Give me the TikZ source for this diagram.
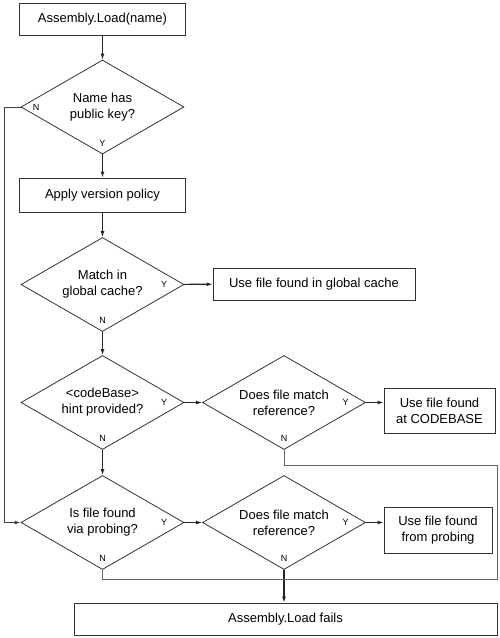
\documentclass[tikz,border=0pt]{standalone}
\usepackage{fontspec}
\setmainfont{Liberation Sans}
\usetikzlibrary{shapes.geometric,positioning,arrows.meta,calc}

\tikzset{
    box/.style={draw=black!80, line width=0.8pt, rectangle, align=center, inner sep=2pt, font=\fontsize{13}{16}\selectfont},
    decision/.style={draw=black!80, line width=0.8pt, diamond, aspect=1.73, inner sep=0pt, minimum width=163pt, minimum height=94pt, align=center, font=\fontsize{13}{16}\selectfont},
    flow/.style={line width=1.1pt, black!85, -{Latex[length=6pt,width=4pt]}},
    back/.style={line width=0.7pt, black!60},
    yn/.style={font=\fontsize{9}{10}\selectfont, inner sep=1pt},
}

\begin{document}
\begin{tikzpicture}[x=1pt, y=-1pt]
            \useasboundingbox (0,0) rectangle (500,638);

            \node[box, minimum width=166pt, minimum height=32pt] (load) at (102.5,19) {Assembly.Load(name)};
            \node[decision] (haskey) at (102.5,107) {Name has\\public key?};
            \node[box, minimum width=166pt, minimum height=34pt] (policy) at (102.5,195) {Apply version policy};
            \node[decision] (cache) at (102.5,284.5) {Match in\\global cache?};
            \node[box, minimum width=202pt, minimum height=32pt] (usecache) at (314,284) {Use file found in global cache};
            \node[decision] (hint) at (102.5,402.5) {<codeBase>\\hint provided?};
            \node[decision] (cbmatch) at (284,402.5) {Does file match\\reference?};
            \node[box, minimum width=111pt, minimum height=45pt] (usecb) at (439.5,410.5) {Use file found\\at CODEBASE};
            \node[decision] (probe) at (102.5,522.5) {Is file found\\via probing?};
            \node[decision] (prmatch) at (284,522.5) {Does file match\\reference?};
            \node[box, minimum width=108pt, minimum height=46pt] (useprobe) at (438,530) {Use file found\\from probing};
            \node[box, minimum width=423pt, minimum height=32pt] (fail) at (285.5,619) {Assembly.Load fails};

            % Y / N marks
            \node[yn, right=11pt] (hkN) at (haskey.west) {N};
            \node[yn, above=7pt] (hkY) at (haskey.south) {Y};
            \node[yn, left=16pt] (caY) at (cache.east) {Y};
            \node[yn, above=7pt] (caN) at (cache.south) {N};
            \node[yn, left=16pt] (hiY) at (hint.east) {Y};
            \node[yn, above=7pt] (hiN) at (hint.south) {N};
            \node[yn, left=16pt] (cbY) at (cbmatch.east) {Y};
            \node[yn, above=7pt] (cbN) at (cbmatch.south) {N};
            \node[yn, left=16pt] (prY) at (probe.east) {Y};
            \node[yn, above=7pt] (prN) at (probe.south) {N};
            \node[yn, left=16pt] (pmY) at (prmatch.east) {Y};
            \node[yn, above=7pt] (pmN) at (prmatch.south) {N};

            \draw[flow] (load) -- (haskey);
            \draw[flow] (haskey) -- (policy);
            \draw[flow] (policy) -- (cache);
            \draw[flow] (cache) -- (usecache);
            \draw[flow] (cache) -- (hint);
            \draw[flow] (hint) -- (cbmatch);
            \draw[flow] (cbmatch.east) -- (cbmatch.east -| usecb.west);
            \draw[flow] (hint) -- (probe);
            \draw[flow] (probe) -- (prmatch);
            \draw[flow] (prmatch.east) -- (prmatch.east -| useprobe.west);
            \draw[flow] (prmatch.south) -- (prmatch.south |- fail.north);

            % return paths
            \coordinate (lt) at (4,107);
            \coordinate (lb) at (4,522.5);
            \coordinate (rt) at (497,465);
            \coordinate (rb) at (497,579);
            \draw[back, line width=0.9pt, black!75, -{Latex[length=6pt,width=4pt]}] (haskey.west) -- (lt) -- (lb) -- (probe.west);
            \draw[back] (cbmatch.south) |- (rt) -- (rb) -| (probe.south);

        \end{tikzpicture}
\end{document}
